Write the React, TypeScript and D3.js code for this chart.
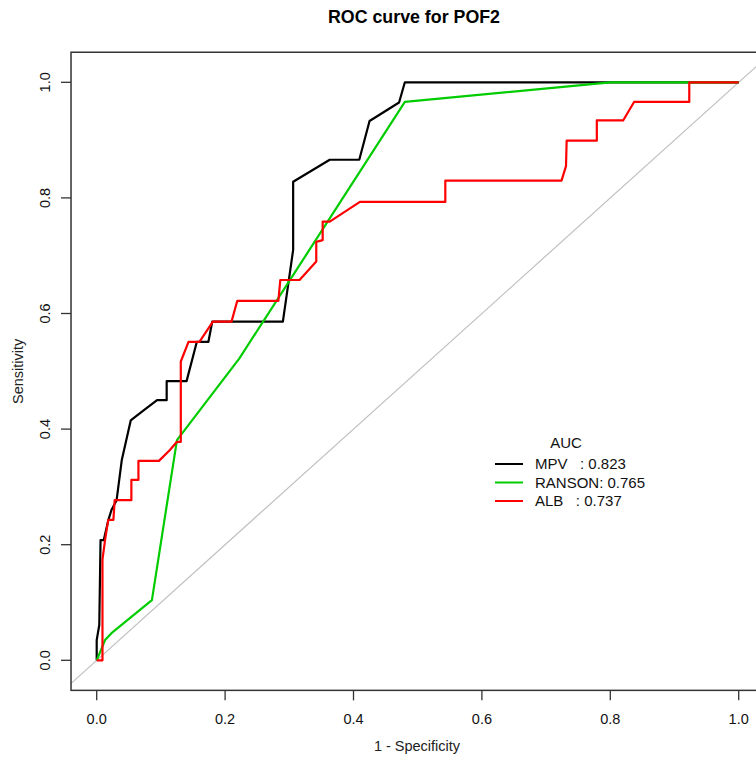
// ROC curves for POF2, R/pROC style, drawn with d3 through a ref
import React, { useEffect, useRef } from 'react'
import * as d3 from 'd3'

const ticks = [0, 0.2, 0.4, 0.6, 0.8, 1.0]
const tickLabels = ['0.0', '0.2', '0.4', '0.6', '0.8', '1.0']

// 1 - specificity / sensitivity
const mpvFpr = [0, 0, 0.004, 0.006, 0.011, 0.018, 0.023, 0.031, 0.039, 0.053, 0.067, 0.094, 0.109, 0.109, 0.14, 0.156, 0.174, 0.18, 0.29, 0.306, 0.306, 0.363, 0.409, 0.425, 0.471, 0.48, 0.8, 1]
const mpvTpr = [0, 0.035, 0.061, 0.208, 0.208, 0.242, 0.26, 0.277, 0.346, 0.415, 0.427, 0.45, 0.45, 0.483, 0.483, 0.551, 0.551, 0.586, 0.586, 0.71, 0.828, 0.866, 0.866, 0.933, 0.965, 1, 1, 1]

const ransonFpr = [0, 0.013, 0.023, 0.086, 0.125, 0.222, 0.48, 0.8, 1]
const ransonTpr = [0, 0.035, 0.047, 0.104, 0.381, 0.522, 0.966, 1, 1]

const albFpr = [0, 0.009, 0.009, 0.013, 0.018, 0.026, 0.028, 0.054, 0.054, 0.065, 0.065, 0.097, 0.114, 0.125, 0.131, 0.131, 0.143, 0.16, 0.181, 0.21, 0.219, 0.283, 0.286, 0.316, 0.342, 0.342, 0.352, 0.352, 0.363, 0.41, 0.543, 0.543, 0.724, 0.731, 0.732, 0.779, 0.779, 0.82, 0.837, 0.923, 0.923, 1]
const albTpr = [0, 0, 0.174, 0.208, 0.243, 0.243, 0.277, 0.277, 0.312, 0.312, 0.345, 0.345, 0.364, 0.378, 0.378, 0.517, 0.551, 0.551, 0.586, 0.586, 0.622, 0.622, 0.658, 0.658, 0.69, 0.724, 0.727, 0.759, 0.759, 0.793, 0.793, 0.83, 0.83, 0.855, 0.899, 0.899, 0.934, 0.934, 0.966, 0.966, 1, 1]

const seriesNames = ['MPV', 'RANSON', 'ALB']
const seriesAuc = ['0.823', '0.765', '0.737']
const legendText = ['MPV   : 0.823', 'RANSON: 0.765', 'ALB   : 0.737']

function App () {
  const ref = useRef<SVGSVGElement>(null)

  useEffect(() => {
    const width = 756
    const height = 757
    const font = '"Liberation Sans", Arial, sans-serif'

    const svg = d3.select(ref.current)
    svg.selectAll('*').remove()

    const x = d3.scaleLinear().domain([0, 1]).range([96.7, 738.7])
    const y = d3.scaleLinear().domain([0, 1]).range([660.3, 82.3])

    const boxL = x(-0.04)
    const boxR = x(1.04)
    const boxT = y(1.052)
    const boxB = y(-0.052)

    svg.append('defs').append('clipPath').attr('id', 'plot-clip')
      .append('rect')
      .attr('x', boxL).attr('y', boxT)
      .attr('width', boxR - boxL).attr('height', boxB - boxT)

    const plot = svg.append('g').attr('clip-path', 'url(#plot-clip)')

    // diagonal reference line
    plot.append('line')
      .attr('x1', x(-0.1)).attr('y1', y(-0.1))
      .attr('x2', x(1.1)).attr('y2', y(1.1))
      .attr('stroke', '#c0c0c0')
      .attr('stroke-width', 1.2)

    const line = d3.line<[number, number]>()
      .x(d => x(d[0]))
      .y(d => y(d[1]))

    const series = [
      { fpr: mpvFpr, tpr: mpvTpr, color: '#000000' },
      { fpr: ransonFpr, tpr: ransonTpr, color: '#00cc00' },
      { fpr: albFpr, tpr: albTpr, color: '#ff0000' }
    ]

    series.forEach(s => {
      const pts = s.fpr.map((v, i) => [v, s.tpr[i]] as [number, number])
      plot.append('path')
        .datum(pts)
        .attr('fill', 'none')
        .attr('stroke', s.color)
        .attr('stroke-width', 2.2)
        .attr('stroke-linejoin', 'round')
        .attr('d', line)
    })

    // box
    svg.append('rect')
      .attr('x', boxL).attr('y', boxT)
      .attr('width', boxR - boxL).attr('height', boxB - boxT)
      .attr('fill', 'none')
      .attr('stroke', '#333')
      .attr('stroke-width', 1.5)

    // x axis
    const xAxis = svg.append('g')
    ticks.forEach((t, i) => {
      xAxis.append('line')
        .attr('x1', x(t)).attr('x2', x(t))
        .attr('y1', boxB).attr('y2', boxB + 10)
        .attr('stroke', '#333').attr('stroke-width', 1.3)
      xAxis.append('text')
        .attr('x', x(t)).attr('y', 724)
        .attr('text-anchor', 'middle')
        .attr('font-family', font).attr('font-size', 14.5)
        .attr('fill', '#111')
        .text(tickLabels[i])
    })

    // y axis
    const yAxis = svg.append('g')
    ticks.forEach((t, i) => {
      yAxis.append('line')
        .attr('x1', boxL).attr('x2', boxL - 10)
        .attr('y1', y(t)).attr('y2', y(t))
        .attr('stroke', '#333').attr('stroke-width', 1.3)
      yAxis.append('text')
        .attr('transform', 'translate(50,' + y(t) + ') rotate(-90)')
        .attr('text-anchor', 'middle')
        .attr('font-family', font).attr('font-size', 14.5)
        .attr('fill', '#111')
        .text(tickLabels[i])
    })

    svg.append('text')
      .attr('x', 417).attr('y', 751)
      .attr('text-anchor', 'middle')
      .attr('font-family', font).attr('font-size', 14.5)
      .attr('fill', '#222')
      .text('1 - Specificity')

    svg.append('text')
      .attr('transform', 'translate(23,' + ((boxT + boxB) / 2) + ') rotate(-90)')
      .attr('text-anchor', 'middle')
      .attr('font-family', font).attr('font-size', 14.5)
      .attr('fill', '#222')
      .text('Sensitivity')

    svg.append('text')
      .attr('x', 414).attr('y', 23)
      .attr('text-anchor', 'middle')
      .attr('font-family', font).attr('font-size', 17.8)
      .attr('font-weight', 'bold')
      .attr('fill', '#000')
      .text('ROC curve for POF2')

    // legend
    const legend = svg.append('g')
    legend.append('text')
      .attr('x', 566).attr('y', 448)
      .attr('text-anchor', 'middle')
      .attr('font-family', font).attr('font-size', 15)
      .attr('fill', '#111')
      .text('AUC')
    const rowY = [464, 482.5, 501]
    series.forEach((s, i) => {
      legend.append('line')
        .attr('x1', 495).attr('x2', 523)
        .attr('y1', rowY[i]).attr('y2', rowY[i])
        .attr('stroke', s.color).attr('stroke-width', 2)
      legend.append('text')
        .attr('x', 535).attr('y', rowY[i] + 5)
        .attr('font-family', font).attr('font-size', 15)
        .attr('fill', '#111')
        .style('white-space', 'pre')
        .text(legendText[i])
    })

    svg.attr('width', width).attr('height', height)
  }, [])

  return (
    <svg
      ref={ref}
      width={756}
      height={757}
      style={{ position: 'absolute', left: 0, top: 0, background: '#fff', display: 'block' }}
      aria-label={seriesNames.map((n, i) => n + ' ' + seriesAuc[i]).join(', ')}
    />
  )
}

export default App
